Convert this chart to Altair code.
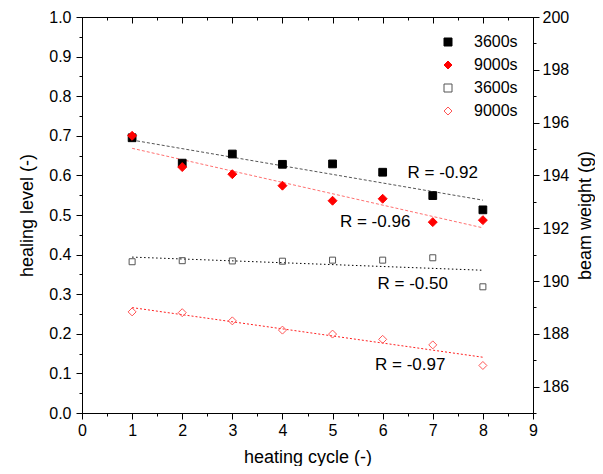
import altair as alt
import pandas as pd

cycles = [1, 2, 3, 4, 5, 6, 7, 8]
heal_3600 = [0.695, 0.631, 0.654, 0.628, 0.629, 0.608, 0.549, 0.513]
heal_9000 = [0.700, 0.621, 0.603, 0.574, 0.536, 0.541, 0.482, 0.487]
weight_3600 = [190.73, 190.77, 190.76, 190.75, 190.79, 190.79, 190.88, 189.78]
weight_9000 = [188.83, 188.80, 188.49, 188.14, 187.99, 187.79, 187.58, 186.80]
series_names = ["3600s", "9000s", "3600s ", "9000s "]
r_labels = ["R = -0.92", "R = -0.96", "R = -0.50", "R = -0.97"]
r_x = [7.2, 5.85, 6.6, 6.55]
r_y = [0.606, 0.483, 0.327, 0.121]

FONT = "Liberation Sans"

left_df = pd.DataFrame({
    "cycle": cycles * 2,
    "value": heal_3600 + heal_9000,
    "series": [series_names[0]] * 8 + [series_names[1]] * 8,
})
right_df = pd.DataFrame({
    "cycle": cycles * 2,
    "value": weight_3600 + weight_9000,
    "series": [series_names[2]] * 8 + [series_names[3]] * 8,
})
r_df = pd.DataFrame({"cycle": r_x, "value": r_y, "label": r_labels})

x_scale = alt.Scale(domain=[0, 9], nice=False, zero=False)
yl_scale = alt.Scale(domain=[0, 1], nice=False, zero=False)
yr_scale = alt.Scale(domain=[185, 200], nice=False, zero=False)

x_axis = alt.Axis(
    title="heating cycle (-)",
    values=[i * 0.5 for i in range(19)],
    format=".0f",
    labelExpr="datum.value % 1 == 0 ? datum.label : ''",
    tickSize={"condition": {"test": "datum.value % 1 != 0", "value": 3}, "value": 6},
    labelOverlap=False, labelFlush=False, grid=False,
    labelPadding=3, titlePadding=10,
)
yl_axis = alt.Axis(
    title="healing level (-)",
    values=[round(i * 0.05, 2) for i in range(21)],
    format=".1f",
    labelExpr="abs(datum.value * 10 - round(datum.value * 10)) > 0.01 ? '' : datum.label",
    tickSize={"condition": {"test": "abs(datum.value * 10 - round(datum.value * 10)) > 0.01", "value": 3}, "value": 6},
    labelOverlap=False, labelFlush=False, grid=False,
    labelPadding=5, titlePadding=12,
)
yr_axis = alt.Axis(
    title="beam weight (g)", orient="right",
    values=list(range(185, 201)),
    format="d",
    labelExpr="datum.value % 2 != 0 ? '' : datum.label",
    tickSize={"condition": {"test": "datum.value % 2 != 0", "value": 3}, "value": 6},
    labelOverlap=False, labelFlush=False, grid=False,
    labelPadding=3, titlePadding=8, titleAngle=270, titleBaseline="top",
)

shape_scale = alt.Scale(domain=series_names, range=["square", "diamond", "square", "diamond"])
fill_scale = alt.Scale(domain=series_names, range=["#000000", "#ff0000", "transparent", "transparent"])
stroke_scale = alt.Scale(domain=series_names, range=["#000000", "#ff0000", "#555555", "#ff5555"])
legend = alt.Legend(
    title=None, orient="none", legendX=358, legendY=17,
    labelFont=FONT, labelFontSize=16, labelColor="black",
    symbolSize=64, symbolStrokeWidth=1, rowPadding=7, labelOffset=18, padding=0,
)


def points(df, name, yscale, yaxis, xaxis, size):
    return alt.Chart(df).transform_filter(
        alt.datum.series == name
    ).mark_point(opacity=1, size=size, strokeWidth=1).encode(
        x=alt.X("cycle:Q", scale=x_scale, axis=xaxis),
        y=alt.Y("value:Q", scale=yscale, axis=yaxis),
        shape=alt.Shape("series:N", scale=shape_scale, legend=legend),
        fill=alt.Fill("series:N", scale=fill_scale, legend=legend),
        stroke=alt.Stroke("series:N", scale=stroke_scale, legend=legend),
    )


def fit(df, name, yscale, yaxis, xaxis, color, dash):
    return alt.Chart(df).transform_filter(
        alt.datum.series == name
    ).transform_regression("cycle", "value", extent=[1, 8]).mark_line(
        color=color, strokeDash=dash, strokeWidth=1
    ).encode(
        x=alt.X("cycle:Q", scale=x_scale, axis=xaxis),
        y=alt.Y("value:Q", scale=yscale, axis=yaxis),
    )


texts = alt.Chart(r_df).mark_text(
    font=FONT, fontSize=17, color="black", align="center", baseline="middle"
).encode(
    x=alt.X("cycle:Q", scale=x_scale, axis=x_axis),
    y=alt.Y("value:Q", scale=yl_scale, axis=yl_axis),
    text="label:N",
)

left = alt.layer(
    fit(left_df, series_names[0], yl_scale, yl_axis, x_axis, "#555555", [3, 2]),
    fit(left_df, series_names[1], yl_scale, yl_axis, x_axis, "#ff7070", [3, 2]),
    points(left_df, series_names[0], yl_scale, yl_axis, x_axis, 60),
    points(left_df, series_names[1], yl_scale, yl_axis, x_axis, 80),
    texts,
)

right = alt.layer(
    fit(right_df, series_names[2], yr_scale, yr_axis, None, "#000000", [1.5, 2.5]),
    fit(right_df, series_names[3], yr_scale, yr_axis, None, "#ff2020", [2, 2]),
    points(right_df, series_names[2], yr_scale, yr_axis, None, 36),
    points(right_df, series_names[3], yr_scale, yr_axis, None, 64),
)

top_major = alt.Chart(left_df).mark_point(opacity=0).encode(
    x=alt.X("cycle:Q", scale=x_scale, axis=alt.Axis(
        orient="top", values=list(range(10)), labels=False, domain=False,
        tickSize=6, offset=-6, title=None, grid=False)),
)
top_minor = alt.Chart(left_df).mark_point(opacity=0).encode(
    x=alt.X("cycle:Q", scale=x_scale, axis=alt.Axis(
        orient="top", values=[i + 0.5 for i in range(9)], labels=False, domain=False,
        tickSize=3, offset=-3, title=None, grid=False)),
)

chart = alt.layer(left, right, top_major, top_minor).resolve_scale(
    x="independent", y="independent"
).properties(
    width=451, height=396,
    padding={"left": 74, "top": 9, "right": 62, "bottom": 53},
    autosize=alt.AutoSizeParams(type="none"),
).configure_view(
    stroke="black", strokeWidth=1
).configure_axis(
    labelFont=FONT, labelFontSize=16, labelColor="black",
    titleFont=FONT, titleFontSize=18, titleColor="black", titleFontWeight="normal",
    domainColor="black", tickColor="black", domainWidth=1, tickWidth=1,
)

chart.save("out.html", embed_options={"renderer": "svg", "actions": False})
